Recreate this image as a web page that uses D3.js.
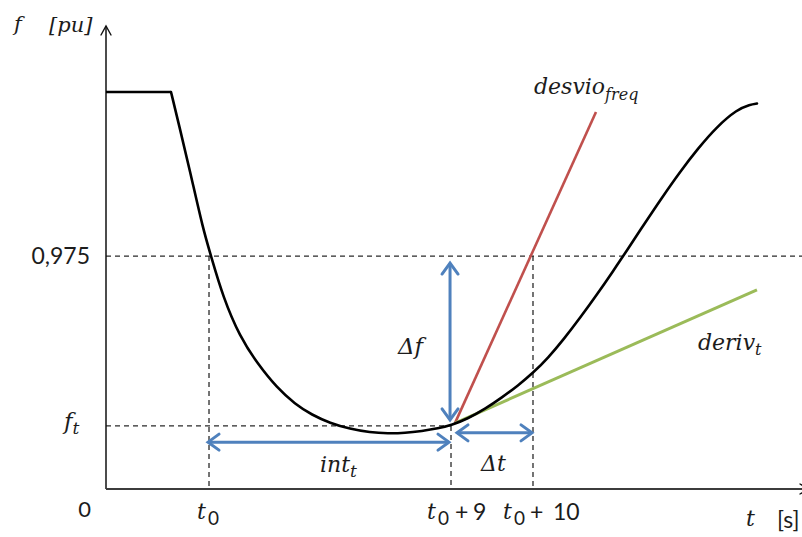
<!DOCTYPE html>
<html>
<head>
<meta charset="utf-8">
<script src="https://cdn.jsdelivr.net/npm/d3@7/dist/d3.min.js"></script>
<style>
  html, body { margin: 0; padding: 0; background: #fff; }
  svg { display: block; }
  .math { font-family: "DejaVu Serif", serif; font-style: italic; fill: #1c1c1c; }
  .num  { font-family: Lato, "Open Sans", sans-serif; fill: #1c1c1c; }
</style>
</head>
<body>
<svg id="chart" width="802" height="537"></svg>
<script>
// Frequency response after a disturbance (schematic, arbitrary units)
const curveT = [0, 9.34, 10.63, 12.07, 13.94, 15.09, 16.81, 19.25, 21.70, 24.57, 27.16, 29.60, 32.18,
  35.06, 37.93, 40.52, 42.96, 45.40, 47.70, 49.71, 52.01, 54.45, 56.90, 59.20, 61.35, 63.51, 65.80,
  68.10, 70.55, 72.84, 74.86, 77.44, 79.89, 82.47, 85.06, 87.79, 90.66, 92.53, 93.53];
const curveF = [85.56, 85.56, 77.59, 68.53, 56.03, 50.22, 41.38, 32.76, 27.16, 21.77, 18.32, 15.95, 14.22,
  12.93, 12.18, 11.96, 12.07, 12.50, 13.04, 13.79, 15.19, 17.24, 19.72, 22.31, 25.00, 28.23, 32.33,
  36.85, 41.92, 46.92, 51.44, 57.35, 62.84, 68.36, 73.41, 78.13, 81.79, 82.87, 83.08];

// Straight lines leaving the evaluation point
const desvioT = [50.14, 70.40];
const desvioF = [14.2, 81.25];
const derivT = [50.14, 93.53];
const derivF = [14.2, 42.9];

// Reference levels and instants
const level0975 = 50.2;
const levelFt = 13.6;
const tickT = [14.80, 49.57, 61.35];   // t0, t0+9, t0+10

// Dimension arrows: [t1, f1, t2, f2]
const arrowDf = [49.43, 48.7, 49.43, 14.9];
const arrowInt = [14.66, 10.1, 49.28, 10.1];
const arrowDt = [50.43, 12.1, 61.21, 12.1];

const svg = d3.select("#chart");
const x = d3.scaleLinear().domain([0, 100]).range([106, 802]);
const y = d3.scaleLinear().domain([0, 100]).range([489, 25]);

const BLUE = "#4f81bd", RED = "#c0504d", GREEN = "#9bbb59";

// Arrowhead markers
const defs = svg.append("defs");
function marker(id, color, len, half, sw) {
  defs.append("marker")
    .attr("id", id)
    .attr("markerUnits", "userSpaceOnUse")
    .attr("viewBox", `${-len - 4} ${-half - 4} ${len + 8} ${2 * half + 8}`)
    .attr("markerWidth", len + 8).attr("markerHeight", 2 * half + 8)
    .attr("refX", 0).attr("refY", 0)
    .attr("orient", "auto-start-reverse")
    .append("path")
    .attr("d", `M${-len},${-half} L0,0 L${-len},${half}`)
    .attr("fill", "none").attr("stroke", color)
    .attr("stroke-width", sw).attr("stroke-linejoin", "miter").attr("stroke-linecap", "round");
}
marker("axisHead", "#111", 9, 5, 1.4);
marker("blueHead", BLUE, 11, 8, 3);

// Dashed guide lines
const dash = svg.append("g").attr("stroke", "#2a2a2a").attr("stroke-width", 1.3)
  .attr("stroke-dasharray", "5,4").attr("fill", "none");
dash.append("line").attr("x1", x(0)).attr("x2", 802).attr("y1", y(level0975)).attr("y2", y(level0975));
dash.append("line").attr("x1", x(0)).attr("x2", x(tickT[1])).attr("y1", y(levelFt)).attr("y2", y(levelFt));
dash.append("line").attr("x1", x(tickT[0])).attr("x2", x(tickT[0])).attr("y1", y(level0975)).attr("y2", y(0));
dash.append("line").attr("x1", x(tickT[1])).attr("x2", x(tickT[1])).attr("y1", y(levelFt)).attr("y2", y(0));
dash.append("line").attr("x1", x(tickT[2])).attr("x2", x(tickT[2])).attr("y1", y(level0975)).attr("y2", y(0));

// Axes
svg.append("line").attr("x1", x(0)).attr("y1", y(0)).attr("x2", x(0)).attr("y2", y(100) + 1)
  .attr("stroke", "#111").attr("stroke-width", 1.5).attr("marker-end", "url(#axisHead)");
svg.append("line").attr("x1", x(0)).attr("y1", y(0)).attr("x2", 809).attr("y2", y(0))
  .attr("stroke", "#3c3c3c").attr("stroke-width", 2).attr("marker-end", "url(#axisHead)");

// Tangent lines
const lineGen = d3.line().x(d => x(d[0])).y(d => y(d[1]));
svg.append("path").datum(d3.zip(desvioT, desvioF)).attr("d", lineGen)
  .attr("stroke", RED).attr("stroke-width", 2.6).attr("fill", "none");
svg.append("path").datum(d3.zip(derivT, derivF)).attr("d", lineGen)
  .attr("stroke", GREEN).attr("stroke-width", 3).attr("fill", "none");

// Frequency curve: flat segment, then the smooth response
const pts = d3.zip(curveT, curveF);
svg.append("path").datum(pts.slice(0, 2)).attr("d", lineGen)
  .attr("stroke", "#000").attr("stroke-width", 2.6).attr("fill", "none");
svg.append("path").datum(pts.slice(1))
  .attr("d", d3.line().x(d => x(d[0])).y(d => y(d[1])).curve(d3.curveBasis))
  .attr("stroke", "#000").attr("stroke-width", 2.6).attr("fill", "none")
  .attr("stroke-linejoin", "round").attr("stroke-linecap", "round");

// Dimension arrows
[arrowDf, arrowInt, arrowDt].forEach(a => {
  svg.append("line")
    .attr("x1", x(a[0])).attr("y1", y(a[1])).attr("x2", x(a[2])).attr("y2", y(a[3]))
    .attr("stroke", BLUE).attr("stroke-width", 3)
    .attr("marker-start", "url(#blueHead)").attr("marker-end", "url(#blueHead)");
});

// Text helpers
function mathLabel(px, py, main, sub, size, subSize, subDy) {
  const t = svg.append("text").attr("class", "math").attr("x", px).attr("y", py)
    .attr("font-size", size);
  t.append("tspan").text(main);
  if (sub) t.append("tspan").attr("font-size", subSize).attr("dy", subDy || 5).text(sub);
  return t;
}
function numLabel(px, py, txt, size, anchor) {
  return svg.append("text").attr("class", "num").attr("x", px).attr("y", py)
    .attr("font-size", size).attr("text-anchor", anchor || "start").text(txt);
}

// Axis titles
mathLabel(14, 31, "f", null, 21);
mathLabel(49, 32, "[pu]", null, 21);
mathLabel(746, 526, "t", null, 22);
numLabel(777, 528, "[s]", 23);

// Level labels on the frequency axis
numLabel(90, y(level0975) + 8, "0,975", 23, "end");
mathLabel(64, y(levelFt) + 3, "f", "t", 23, 17, 5);
numLabel(91, 517, "0", 22, "end");

// Instant labels on the time axis
const tickParts = [[], [["+", 4], ["9", 22]], [["+", -3], ["10", 20]]];
const tickShift = [-12, -24, -30];
tickT.forEach((tv, i) => {
  const cx = x(tv);
  mathLabel(cx + tickShift[i], 519, "t", null, 22);
  numLabel(cx + tickShift[i] + 11, 525, "0", 19);
  tickParts[i].forEach(p => numLabel(cx + p[1], 520, p[0], 23));
});

// Annotation labels
mathLabel(398, 354, "\u0394f", null, 23);
mathLabel(320, 472, "int", "t", 22, 17, 5);
mathLabel(481, 471, "\u0394t", null, 22);
mathLabel(534, 94, "desvio", "freq", 22, 16, 6);
mathLabel(698, 350, "deriv", "t", 22, 16, 5);
</script>
</body>
</html>
